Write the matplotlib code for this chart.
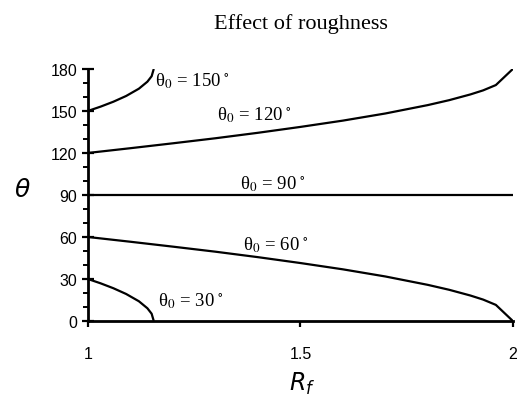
import matplotlib
matplotlib.use("Agg")
import matplotlib.pyplot as plt
from matplotlib.ticker import MultipleLocator

plt.rcParams.update({"mathtext.fontset": "stix", "font.family": "Liberation Sans"})

# Wenzel curves: contact angle theta vs roughness factor Rf
rf_150 = [1.0, 1.03, 1.06, 1.09, 1.12, 1.14, 1.15, 1.155]
th_150 = [150, 153.1, 156.6, 160.7, 165.9, 170.9, 174.8, 180]
rf_30 = [1.0, 1.03, 1.06, 1.09, 1.12, 1.14, 1.15, 1.155]
th_30 = [30, 26.9, 23.4, 19.3, 14.1, 9.1, 5.2, 0]
rf_120 = [1.0, 1.1, 1.2, 1.3, 1.4, 1.5, 1.6, 1.7, 1.8, 1.85, 1.9, 1.93, 1.96, 2.0]
th_120 = [120, 123.4, 126.9, 130.5, 134.4, 138.6, 143.1, 148.2, 154.2, 157.7,
          161.8, 164.7, 168.5, 180]
rf_60 = [1.0, 1.1, 1.2, 1.3, 1.4, 1.5, 1.6, 1.7, 1.8, 1.85, 1.9, 1.93, 1.96, 2.0]
th_60 = [60, 56.6, 53.1, 49.5, 45.6, 41.4, 36.9, 31.8, 25.8, 22.3,
         18.2, 15.3, 11.5, 0]
rf_90 = [1.0, 2.0]
th_90 = [90, 90]

labels = ["150", "120", "90", "60", "30"]
label_xy = [(1.158, 168), (1.303, 144), (1.358, 94.5), (1.365, 51), (1.165, 11)]

fig = plt.figure(figsize=(5.17, 4.02), dpi=100)
ax = fig.add_axes([0.170, 0.199, 0.822, 0.627])

for r, t in [(rf_150, th_150), (rf_120, th_120), (rf_90, th_90),
             (rf_60, th_60), (rf_30, th_30)]:
    ax.plot(r, t, color="black", lw=1.6, solid_capstyle="butt")

for lab, (x, y) in zip(labels, label_xy):
    ax.text(x, y, "θ$_0$ = " + lab + r"$^{\,\circ}$", family="Liberation Serif",
            fontsize=13.5, va="baseline", ha="left")

ax.set_xlim(1, 2)
ax.set_ylim(0, 180)
ax.set_xticks([1, 1.5, 2])
ax.set_xticklabels(["1", "1.5", "2"])
ax.yaxis.set_major_locator(MultipleLocator(30))
ax.yaxis.set_minor_locator(MultipleLocator(10))
ax.spines[["top", "right"]].set_visible(False)
for s in ("left", "bottom"):
    ax.spines[s].set_linewidth(2.0)
ax.tick_params(axis="y", which="major", direction="inout", length=9, width=1.6,
               pad=3, labelsize=11.5)
ax.tick_params(axis="y", which="minor", length=3.5, width=1.4)
ax.tick_params(axis="x", which="major", length=4, width=1.6, pad=14, labelsize=11.5)

fig.text(301 / 517, 1 - 24 / 402, "Effect of roughness", family="Liberation Serif",
         fontsize=16, ha="center", va="center")
fig.text(22 / 517, 1 - 190 / 402, r"$\theta$", fontsize=18, ha="center", va="center",
         math_fontfamily="dejavusans")
fig.text(302 / 517, 1 - 384 / 402, r"$R_f$", fontsize=17, ha="center", va="center",
         math_fontfamily="dejavusans")

fig.savefig("out.png", dpi=100)
